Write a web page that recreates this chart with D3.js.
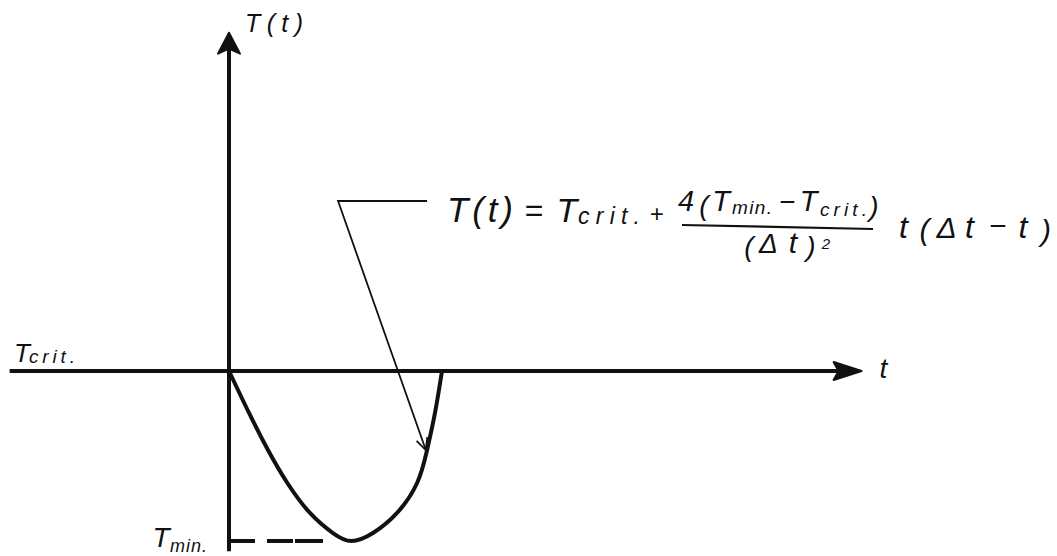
<!DOCTYPE html>
<html>
<head>
<meta charset="utf-8">
<script src="https://cdn.jsdelivr.net/npm/d3@7"></script>
<style>
  body { margin: 0; background: #fff; }
  svg text { font-family: "Liberation Sans", Arial, sans-serif; font-style: italic; fill: #111; }
</style>
</head>
<body>
<svg id="chart"></svg>
<script>
// curve: t in units of Δt, T scaled so T_crit = 0 and T_min = -1
const curveT    = [0, 0.094, 0.183, 0.274, 0.380, 0.488, 0.575, 0.676, 0.789, 0.883, 0.930, 0.967, 1.0];
const curveTemp = [0, -0.247, -0.465, -0.659, -0.835, -0.953, -1.0, -0.953, -0.835, -0.659, -0.465, -0.247, 0];

// axis extents (same units)
const tExtent = [-1.03, 2.97];
const tempExtent = [-1.06, 1.99];
const tCrit = 0, tMin = -1, tAtMin = 0.56;

// leader line for the formula: elbow, end of the horizontal, arrow tip
const leaderT    = [0.512, 0.93, 0.924];
const leaderTemp = [1.0, 1.0, -0.465];

const width = 1057, height = 556;

const svg = d3.select('#chart')
    .attr('width', width)
    .attr('height', height);

const x = d3.scaleLinear().domain([0, 1]).range([229, 442]);
const y = d3.scaleLinear().domain([tMin, tCrit]).range([541, 371]);

// --- axes
svg.append('line')
    .attr('x1', x(tExtent[0])).attr('x2', x(tExtent[1]) - 20)
    .attr('y1', y(tCrit)).attr('y2', y(tCrit))
    .attr('stroke', '#111').attr('stroke-width', 4);

svg.append('line')
    .attr('x1', x(0)).attr('x2', x(0))
    .attr('y1', y(tempExtent[0])).attr('y2', y(tempExtent[1]) + 15)
    .attr('stroke', '#111').attr('stroke-width', 4);

// arrow heads
const hx = x(tExtent[1]), hy = y(tCrit);
svg.append('path')
    .attr('d', `M${hx},${hy} L${hx - 28},${hy - 9} L${hx - 23},${hy} L${hx - 28},${hy + 9} Z`)
    .attr('fill', '#111').attr('stroke', '#111').attr('stroke-width', 2).attr('stroke-linejoin', 'round');

const vx = x(0), vy = y(tempExtent[1]);
svg.append('path')
    .attr('d', `M${vx},${vy} L${vx - 11},${vy + 21} L${vx},${vy + 16} L${vx + 11},${vy + 21} Z`)
    .attr('fill', '#111').attr('stroke', '#111').attr('stroke-width', 2).attr('stroke-linejoin', 'round');

// --- dashed T_min level
svg.append('line')
    .attr('x1', x(0)).attr('x2', x(tAtMin) - 4)
    .attr('y1', y(tMin)).attr('y2', y(tMin))
    .attr('stroke', '#111').attr('stroke-width', 4)
    .attr('stroke-dasharray', '26,12,26,2,28');

// --- the parabola
const line = d3.line()
    .x(i => x(curveT[i]))
    .y(i => y(curveTemp[i]))
    .curve(d3.curveNatural);

svg.append('path')
    .attr('d', line(d3.range(curveT.length)))
    .attr('fill', 'none')
    .attr('stroke', '#111')
    .attr('stroke-width', 4)
    .attr('stroke-linecap', 'round');

// --- leader line with open arrow
const lp = leaderT.map((t, i) => [x(t), y(leaderTemp[i])]);
svg.append('path')
    .attr('d', `M${lp[1][0]},${lp[1][1]} L${lp[0][0]},${lp[0][1]} L${lp[2][0]},${lp[2][1]}`)
    .attr('fill', 'none').attr('stroke', '#111').attr('stroke-width', 1.8);

const ang = Math.atan2(lp[2][1] - lp[0][1], lp[2][0] - lp[0][0]);
const barb = 13, spread = 0.45;
const tip = lp[2];
svg.append('path')
    .attr('d', `M${tip[0] - barb * Math.cos(ang - spread)},${tip[1] - barb * Math.sin(ang - spread)}
                L${tip[0]},${tip[1]}
                L${tip[0] - barb * Math.cos(ang + spread)},${tip[1] - barb * Math.sin(ang + spread)}`)
    .attr('fill', 'none').attr('stroke', '#111').attr('stroke-width', 1.8);

// --- text: [string, x, baseline, font size, box width]
const pieces = [
  // axis labels
  ['T(t)', 245, 32, 25, 58],
  ['t', 875, 378, 28, 17],
  ['T', 12, 362, 26, 20],
  ['crit.', 29, 363, 19, 46],
  ['T', 150, 547, 28, 22],
  ['min.', 170, 552, 18, 37],
  // formula, main line
  ['T(t)', 447, 222, 35, 66],
  ['=', 520, 221, 32, 27],
  ['T', 556, 222, 34, 22],
  ['crit.', 578, 224, 23, 62],
  ['+', 648, 222, 24, 17],
  // numerator
  ['4', 677, 211, 29, 18],
  ['(', 700, 215, 28, 8],
  ['T', 710, 211, 29, 22],
  ['min.', 732, 214, 19, 40],
  ['−', 777, 211, 28, 20],
  ['T', 797, 211, 29, 23],
  ['crit.', 820, 216, 19, 47],
  [')', 868, 216, 28, 12],
  // denominator
  ['(', 745, 256, 28, 8],
  ['Δ', 757, 253, 28, 23],
  ['t', 783, 253, 30, 20],
  [')', 807, 256, 28, 8],
  ['2', 820, 249, 15, 12],
  // tail
  ['t', 895, 238, 32, 17],
  ['(', 920, 240, 30, 9],
  ['Δ', 937, 238, 30, 19],
  ['t', 959, 238, 32, 21],
  ['−', 987, 236, 30, 21],
  ['t', 1013, 238, 32, 20],
  [')', 1040, 241, 30, 12]
];

const txt = svg.selectAll('text.piece')
  .data(pieces)
  .join('text')
    .attr('class', 'piece')
    .attr('y', d => d[2])
    .style('font-size', d => d[3] + 'px')
    .text(d => d[0]);

// single glyphs are centred in their box, longer strings are spaced out to fill it
txt.filter(d => d[0].length === 1)
    .attr('x', d => d[1] + d[4] / 2)
    .attr('text-anchor', 'middle');

txt.filter(d => d[0].length > 1)
    .attr('x', d => d[1])
    .attr('textLength', d => d[4])
    .attr('lengthAdjust', 'spacing');

// fraction bar
svg.append('line')
    .attr('x1', 682).attr('y1', 225).attr('x2', 873).attr('y2', 229)
    .attr('stroke', '#111').attr('stroke-width', 2.2);
</script>
</body>
</html>
